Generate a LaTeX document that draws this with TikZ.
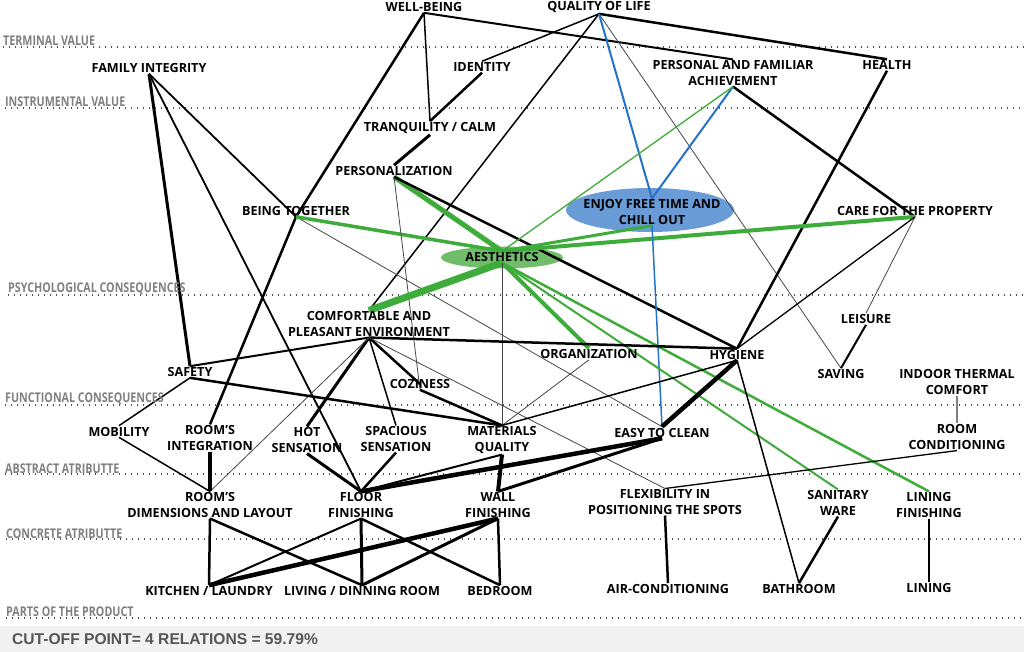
\documentclass[tikz,border=0pt]{standalone}
\usepackage{fontspec}
\setmainfont{Open Sans}
\newfontfamily\layfam[FakeStretch=0.8]{Open Sans}
\newfontfamily\cutfam{Liberation Sans}
\usetikzlibrary{shapes.geometric}
\definecolor{lgreen}{RGB}{62,172,58}
\definecolor{aesfill}{RGB}{112,190,106}
\definecolor{lblue}{RGB}{35,115,200}
\definecolor{enjfill}{RGB}{105,155,215}
\definecolor{laygray}{RGB}{128,128,128}
\definecolor{dotgray}{RGB}{80,80,80}
\definecolor{bandgray}{RGB}{241,241,241}
\definecolor{cutgray}{RGB}{85,85,85}
\definecolor{thgray}{RGB}{70,70,70}
\pgfdeclarelayer{bg}
\pgfdeclarelayer{mid}
\pgfsetlayers{bg,mid,main}
\begin{document}
\begin{tikzpicture}[x=1pt,y=-1pt,line cap=round,line join=round,
  lbl/.style={font=\bfseries\fontsize{12.6}{15.5}\selectfont,align=center,inner sep=1pt,text=black},
  lay/.style={font=\layfam\bfseries\fontsize{13.4}{15}\selectfont,text=laygray,anchor=west,inner sep=0pt},
  dotrule/.style={draw=dotgray,line width=1.4pt,dash pattern=on 1.4pt off 4.6pt,line cap=butt},
  ln/.style={draw=black,line width=#1pt},
  gr/.style={draw=lgreen,line width=#1pt},
  bl/.style={draw=lblue,line width=#1pt},
  th/.style={draw=thgray,line width=0.8pt}]
\useasboundingbox (0,0) rectangle (1024,652);
\begin{pgfonlayer}{bg}
\fill[white] (0,0) rectangle (1024,652);
\fill[bandgray] (0,626) rectangle (1024,652);
\foreach \yy/\xx in {47/3,108/5,295/8,405/5,474/5,539/6,618/6}{
  \draw[dotrule] (\xx,\yy) -- (1024,\yy);}
\fill[enjfill] (650,210) ellipse [x radius=84pt,y radius=22pt];
\fill[aesfill] (502,257.5) ellipse [x radius=61pt,y radius=11pt];
\end{pgfonlayer}
% layer labels
\node[lay] (tv) at (3,41) {TERMINAL VALUE};
\node[lay] (iv) at (5,102) {INSTRUMENTAL VALUE};
\node[lay] (pc) at (8,289) {PSYCHOLOGICAL CONSEQUENCES};
\node[lay] (fc) at (5,399) {FUNCTIONAL CONSEQUENCES};
\node[lay] (aa) at (5,469) {ABSTRACT ATRIBUTTE};
\node[lay] (ca) at (6,534) {CONCRETE ATRIBUTTE};
\node[lay] (pp) at (6,612) {PARTS OF THE PRODUCT};
\node[anchor=west,font=\cutfam\bfseries\fontsize{15.6}{18}\selectfont,text=cutgray,inner sep=0pt] (cut) at (12,639) {CUT-OFF POINT= 4 RELATIONS = 59.79\%};
% concept nodes
\node[lbl] (wb) at (424,7) {WELL-BEING};
\node[lbl] (qol) at (599,7) {QUALITY OF LIFE};
\node[lbl] (id) at (482,67) {IDENTITY};
\node[lbl] (fi) at (149,68) {FAMILY INTEGRITY};
\node[lbl] (pfa) at (733,73) {PERSONAL AND FAMILIAR\\ACHIEVEMENT};
\node[lbl] (hea) at (887,65) {HEALTH};
\node[lbl] (tq) at (430,128) {TRANQUILITY / CALM};
\node[lbl] (pers) at (394,171) {PERSONALIZATION};
\node[lbl] (bt) at (296,211) {BEING TOGETHER};
\node[lbl] (enj) at (652,212) {ENJOY FREE TIME AND\\CHILL OUT};
\node[lbl] (care) at (915,211) {CARE FOR THE PROPERTY};
\node[lbl] (aes) at (502,257) {AESTHETICS};
\node[lbl] (lei) at (866,319) {LEISURE};
\node[lbl] (cpe) at (369,324) {COMFORTABLE AND\\PLEASANT ENVIRONMENT};
\node[lbl] (org) at (589,354) {ORGANIZATION};
\node[lbl] (hyg) at (737,354.5) {HYGIENE};
\node[lbl] (saf) at (190,372) {SAFETY};
\node[lbl] (coz) at (420,384) {COZINESS};
\node[lbl] (sav) at (841,374) {SAVING};
\node[lbl] (itc) at (957,382) {INDOOR THERMAL\\COMFORT};
\node[lbl] (mob) at (119,431.5) {MOBILITY};
\node[lbl] (ri) at (210,438) {ROOM’S\\INTEGRATION};
\node[lbl] (hot) at (307,440) {HOT\\SENSATION};
\node[lbl] (spa) at (396,439) {SPACIOUS\\SENSATION};
\node[lbl] (mq) at (502,440) {MATERIALS\\QUALITY};
\node[lbl] (etc) at (662,432.5) {EASY TO CLEAN};
\node[lbl] (rc) at (957,437) {ROOM\\CONDITIONING};
\node[lbl] (rd) at (210,505) {ROOM’S\\DIMENSIONS AND LAYOUT};
\node[lbl] (ff) at (361,505) {FLOOR\\FINISHING};
\node[lbl] (wf) at (498,505) {WALL\\FINISHING};
\node[lbl] (flex) at (665,502) {FLEXIBILITY IN\\POSITIONING THE SPOTS};
\node[lbl] (sw) at (838,503) {SANITARY\\WARE};
\node[lbl] (lf) at (929,505) {LINING\\FINISHING};
\node[lbl] (kl) at (209,591) {KITCHEN / LAUNDRY};
\node[lbl] (ldr) at (362,591) {LIVING / DINNING ROOM};
\node[lbl] (bed) at (500,591) {BEDROOM};
\node[lbl] (ac) at (668,589) {AIR-CONDITIONING};
\node[lbl] (bath) at (799,589) {BATHROOM};
\node[lbl] (lin) at (929,588) {LINING};
% connectors
\begin{pgfonlayer}{mid}
\draw[ln=2.5] (wb.south) -- (bt.south);
\draw[ln=1.5] (wb.south) -- (tq.north);
\draw[ln=2] (wb.south) -- (pfa.north);
\draw[ln=1.5] (qol.south) -- (id.north);
\draw[ln=1.5] (qol.south) -- (cpe.north);
\draw[ln=2.5] (qol.south) -- (hea.north);
\draw[th] (qol.south) -- (sav.north);
\draw[bl=2] (qol.south) -- (enj.north);
\draw[ln=2.5] (id.south) -- (tq.north);
\draw[ln=3] (tq.south) -- (pers.north);
\draw[ln=3] (fi.south) -- (saf.north);
\draw[ln=1.8] (fi.south) -- (ff.north);
\draw[ln=1.8] (fi.south) -- (bt.south);
\draw[ln=2.5] (bt.south) -- (ri.north);
\draw[th] (bt.south) -- (etc.north);
\draw[gr=3.5] (bt.south) -- (aes.north);
\draw[gr=5] (pers.south) -- (aes.north);
\draw[ln=2.5] (pers.south) -- (hyg.north);
\draw[th] (pers.south) -- (coz.south);
\draw[ln=2.5] (pfa.south) -- (care.south);
\draw[bl=2] (pfa.south) -- (enj.north);
\draw[gr=1.3] (pfa.south) -- (aes.north);
\draw[ln=2.5] (hea.south) -- (hyg.north);
\draw[gr=4] (care.south) -- (aes.north);
\draw[ln=1.3] (care.south) -- (hyg.north);
\draw[th] (care.south) -- (lei.north);
\draw[ln=2] (lei.south) -- (sav.north);
\draw[bl=1.5] (enj.south) -- (etc.north);
\draw[gr=3] (enj.south) -- (aes.north);
\draw[gr=7] (aes.south) -- (cpe.north);
\draw[gr=4] (aes.south) -- (org.north);
\draw[gr=2] (aes.south) -- (sw.north);
\draw[gr=2.5] (aes.south) -- (lf.north);
\draw[th] (aes.south) -- (mq.north);
\draw[ln=2] (cpe.south) -- (saf.north);
\draw[ln=2.5] (cpe.south) -- (hyg.north);
\draw[ln=3] (cpe.south) -- (hot.north);
\draw[ln=1.5] (cpe.south) -- (spa.north);
\draw[ln=2.5] (cpe.south) -- (coz.center);
\draw[th] (cpe.south) -- (rd.north);
\draw[th] (cpe.south) -- (flex.north);
\draw[ln=2.5] (coz.south) -- (mq.north);
\draw[th] (org.south) -- (mq.north);
\draw[ln=4.5] (hyg.south) -- (etc.north);
\draw[ln=1.5] (hyg.south) -- (mq.north);
\draw[ln=1.5] (hyg.south) -- (bath.north);
\draw[ln=2.5] (saf.south) -- (mq.north);
\draw[ln=1.5] (saf.south) -- (mob.north);
\draw[ln=1.5] (mob.south) -- (rd.north);
\draw[ln=3.5] (ri.south) -- (rd.north);
\draw[ln=3] (hot.south) -- (ff.north);
\draw[ln=2.5] (spa.south) -- (ff.north);
\draw[ln=2] (mq.south) -- (ff.north);
\draw[ln=4] (mq.south) -- (wf.north);
\draw[ln=4.5] (etc.south) -- (ff.north);
\draw[ln=3] (etc.south) -- (wf.north);
\draw[ln=1.3] (rc.south) -- (flex.north);
\draw[draw=gray,line width=1.2pt] (itc.south) -- (rc.north);
\draw[ln=2.5] (flex.south) -- (ac.north);
\draw[ln=2.5] (sw.south) -- (bath.north);
\draw[ln=2.5] (lf.south) -- (lin.north);
\draw[ln=2.5] (rd.south) -- (kl.north);
\draw[ln=2.5] (rd.south) -- (ldr.north);
\draw[ln=2] (ff.south) -- (kl.north);
\draw[ln=3] (ff.south) -- (ldr.north);
\draw[ln=2.5] (ff.south) -- (bed.north);
\draw[ln=4.5] (wf.south) -- (kl.north);
\draw[ln=3] (wf.south) -- (ldr.north);
\draw[ln=2.5] (wf.south) -- (bed.north);
\end{pgfonlayer}
\end{tikzpicture}
\end{document}
